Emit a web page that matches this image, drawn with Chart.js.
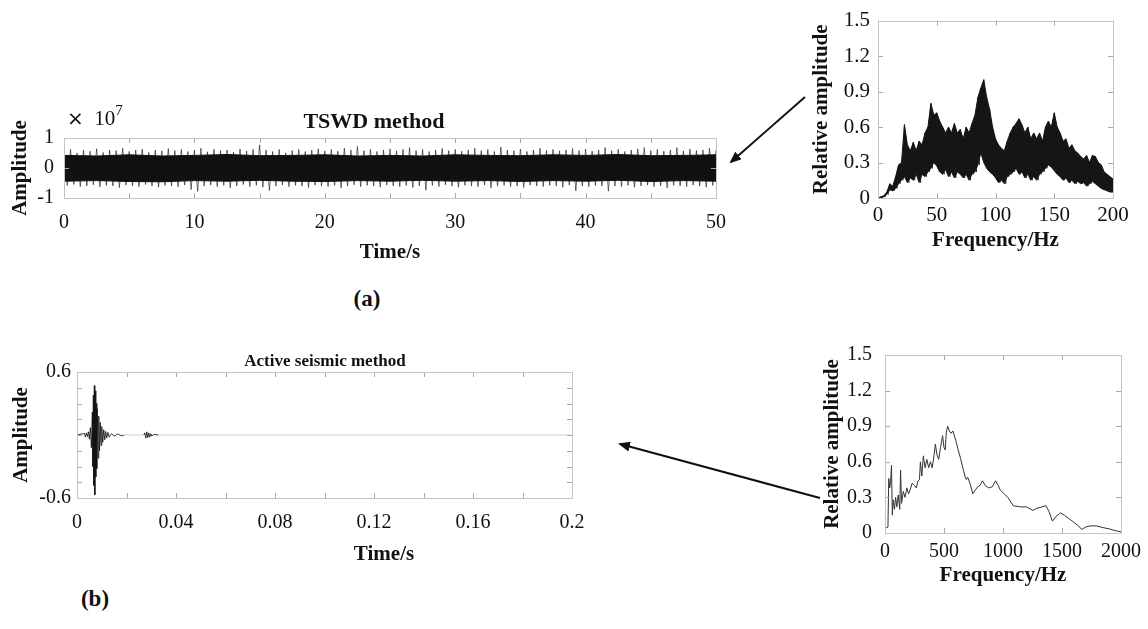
<!DOCTYPE html>
<html>
<head>
<meta charset="utf-8">
<script src="https://cdn.jsdelivr.net/npm/chart.js@4.4.1/dist/chart.umd.min.js"></script>
<style>
  html, body { margin: 0; padding: 0; background: #fff; }
  body { width: 1148px; height: 629px; position: relative; overflow: hidden; font-family: 'Liberation Serif', 'Times New Roman', serif; color: #111; }
  .box { position: absolute; }
  .lbl { position: absolute; transform: translate(-50%, -50%); white-space: nowrap; line-height: 1; }
  .b { font-weight: bold; }
  svg { position: absolute; left: 0; top: 0; }
</style>
</head>
<body>
<div class="box" style="left:0;top:100px;width:740px;height:170px"><canvas id="tswdWave" width="740" height="170"></canvas></div>
<div class="box" style="left:800px;top:0;width:340px;height:260px"><canvas id="tswdSpec" width="340" height="260"></canvas></div>
<div class="box" style="left:0;top:340px;width:640px;height:240px"><canvas id="seisWave" width="640" height="240"></canvas></div>
<div class="box" style="left:800px;top:330px;width:348px;height:280px"><canvas id="seisSpec" width="348" height="280"></canvas></div>

<div class="lbl" style="left:67px;top:117px;font-size:21px;transform:translate(0,-50%)"><span style="font-family:'DejaVu Sans';font-size:20px">×</span>&nbsp;&nbsp;10<sup style="font-size:15px;position:relative;top:-2px">7</sup></div>
<div class="lbl b" style="left:374px;top:121px;font-size:22px">TSWD method</div>
<div class="lbl b" style="left:367px;top:298px;font-size:23px">(a)</div>
<div class="lbl b" style="left:325px;top:360px;font-size:17px">Active seismic method</div>
<div class="lbl b" style="left:384px;top:553px;font-size:21px">Time/s</div>
<div class="lbl b" style="left:95px;top:598px;font-size:23px">(b)</div>

<svg width="1148" height="629">
  <defs>
    <marker id="head" markerWidth="6" markerHeight="5" refX="5" refY="2.5" orient="auto" markerUnits="strokeWidth">
      <path d="M0,0 L6,2.5 L0,5 Z" fill="#111"/>
    </marker>
  </defs>
  <line x1="805" y1="97" x2="731" y2="162" stroke="#111" stroke-width="2" marker-end="url(#head)"/>
  <line x1="820" y1="498" x2="620" y2="444" stroke="#111" stroke-width="2" marker-end="url(#head)"/>
</svg>

<script>
// (a) TSWD time history, x 1e7, peak envelope read every 0.5 s
const tswdStep = 0.5;
const tswdUpper = [
  0.55,0.62,0.5,0.6,0.56,0.64,0.52,0.6,0.58,0.66,
  0.55,0.6,0.63,0.52,0.6,0.57,0.65,0.58,0.62,0.55,
  0.6,0.66,0.54,0.62,0.58,0.6,0.53,0.63,0.57,0.62,
  0.77,0.6,0.55,0.62,0.5,0.58,0.62,0.55,0.6,0.64,
  0.57,0.62,0.56,0.66,0.6,0.72,0.58,0.62,0.55,0.6,
  0.64,0.57,0.62,0.68,0.58,0.62,0.55,0.6,0.65,0.58,
  0.62,0.56,0.6,0.66,0.58,0.62,0.55,0.7,0.6,0.58,
  0.63,0.55,0.6,0.66,0.58,0.62,0.57,0.6,0.65,0.58,
  0.63,0.56,0.6,0.68,0.58,0.62,0.55,0.6,0.64,0.68,
  0.58,0.62,0.56,0.6,0.68,0.57,0.63,0.58,0.6,0.66,
  0.6
];
const tswdLower = [
  -0.58,-0.55,-0.62,-0.6,-0.56,-0.63,-0.58,-0.6,-0.65,-0.57,
  -0.6,-0.62,-0.55,-0.6,-0.64,-0.58,-0.6,-0.63,-0.57,-0.72,
  -0.78,-0.6,-0.57,-0.62,-0.58,-0.66,-0.6,-0.55,-0.62,-0.58,
  -0.64,-0.75,-0.6,-0.57,-0.62,-0.58,-0.6,-0.65,-0.57,-0.6,
  -0.62,-0.58,-0.66,-0.6,-0.56,-0.62,-0.58,-0.6,-0.64,-0.57,
  -0.6,-0.62,-0.58,-0.65,-0.6,-0.74,-0.58,-0.62,-0.56,-0.6,
  -0.64,-0.58,-0.6,-0.62,-0.57,-0.66,-0.6,-0.58,-0.62,-0.6,
  -0.65,-0.57,-0.6,-0.62,-0.58,-0.6,-0.64,-0.57,-0.76,-0.6,
  -0.62,-0.58,-0.6,-0.77,-0.6,-0.62,-0.58,-0.64,-0.6,-0.57,
  -0.62,-0.6,-0.66,-0.58,-0.6,-0.62,-0.57,-0.6,-0.64,-0.58,
  -0.6
];
// dense core of the signal, every 2.5 s
const tswdCoreStep = 2.5;
const tswdCoreUpper = [0.42,0.4,0.44,0.4,0.42,0.45,0.41,0.42,0.44,0.4,0.42,0.4,0.44,0.42,0.41,0.44,0.42,0.45,0.41,0.42,0.44];
const tswdCoreLower = [-0.44,-0.42,-0.45,-0.46,-0.42,-0.44,-0.41,-0.44,-0.45,-0.42,-0.44,-0.41,-0.44,-0.42,-0.45,-0.42,-0.44,-0.41,-0.45,-0.42,-0.44];

// (a) spectrum, band read every 2.5 Hz
const specStep = 2.5;
const specUpper = [
  0,0.01,0.02,0.05,0.12,0.1,0.18,0.28,0.3,0.62,
  0.45,0.4,0.47,0.4,0.48,0.45,0.55,0.6,0.8,0.7,
  0.72,0.65,0.6,0.55,0.6,0.55,0.63,0.55,0.58,0.5,
  0.6,0.55,0.63,0.7,0.85,0.93,1.0,0.85,0.75,0.6,
  0.5,0.45,0.42,0.4,0.48,0.55,0.6,0.63,0.67,0.62,
  0.55,0.6,0.5,0.55,0.5,0.55,0.48,0.6,0.65,0.6,
  0.72,0.6,0.55,0.48,0.5,0.42,0.45,0.4,0.38,0.35,
  0.33,0.36,0.3,0.36,0.35,0.3,0.28,0.22,0.2,0.18,
  0.16
];
const specLower = [
  0,0,0.01,0.03,0.07,0.06,0.08,0.12,0.15,0.18,
  0.13,0.17,0.15,0.2,0.13,0.2,0.18,0.22,0.25,0.3,
  0.27,0.22,0.2,0.24,0.18,0.22,0.17,0.22,0.2,0.17,
  0.2,0.15,0.2,0.22,0.28,0.38,0.3,0.25,0.22,0.2,
  0.17,0.13,0.15,0.12,0.18,0.2,0.22,0.25,0.2,0.22,
  0.17,0.2,0.15,0.18,0.15,0.2,0.22,0.25,0.28,0.26,
  0.23,0.2,0.18,0.15,0.17,0.13,0.15,0.12,0.14,0.12,
  0.13,0.1,0.12,0.14,0.12,0.1,0.08,0.07,0.06,0.05,
  0.05
];

// (b) active seismic record
const seisTime = [0,0.003,0.0034,0.0038,0.0042,0.0046,0.005,0.0054,0.0058,0.0062,0.0064,0.0066,0.0068,0.007,0.0072,0.0074,0.0076,0.0078,0.008,0.0082,0.0085,0.0088,0.0091,0.0094,0.0097,0.01,0.0104,0.0108,0.0112,0.0116,0.012,0.0125,0.013,0.014,0.015,0.0165,0.018,0.019,0.027,0.0274,0.0278,0.0282,0.0286,0.029,0.0294,0.0298,0.0302,0.031,0.033,0.2];
const seisAmp = [0,0.015,-0.02,0.02,-0.015,0.03,-0.04,0.07,-0.12,0.22,-0.3,0.38,-0.48,0.47,-0.57,0.42,-0.4,0.3,-0.32,0.25,-0.22,0.18,-0.15,0.12,-0.1,0.08,-0.07,0.05,-0.045,0.035,-0.03,0.025,-0.02,0.015,-0.012,0.01,-0.008,0,0,0.02,-0.03,0.03,-0.025,0.02,-0.02,0.012,-0.01,0.005,0,0];

// (b) spectrum
const seisFreq = [0,25,32,40,48,55,62,70,80,90,100,112,125,132,140,155,170,185,200,215,230,250,265,280,292,300,312,325,340,355,370,385,400,415,427,440,455,470,488,500,510,520,531,545,560,575,600,620,640,662,680,689,700,720,744,765,785,805,826,850,880,910,937,960,978,1000,1040,1088,1150,1200,1253,1290,1330,1364,1390,1419,1450,1488,1520,1560,1600,1640,1666,1700,1740,1791,1850,1900,1950,2000];
const seisSpecAmp = [0.04,0.05,0.46,0.38,0.44,0.57,0.15,0.28,0.2,0.3,0.22,0.32,0.2,0.53,0.25,0.35,0.3,0.38,0.33,0.37,0.42,0.4,0.38,0.44,0.45,0.6,0.48,0.65,0.55,0.62,0.55,0.6,0.55,0.65,0.75,0.66,0.62,0.72,0.82,0.72,0.7,0.85,0.9,0.86,0.84,0.86,0.78,0.7,0.63,0.54,0.47,0.45,0.47,0.42,0.33,0.36,0.39,0.4,0.44,0.4,0.38,0.39,0.44,0.4,0.36,0.34,0.3,0.23,0.22,0.22,0.19,0.21,0.22,0.23,0.18,0.1,0.14,0.17,0.15,0.12,0.09,0.06,0.03,0.05,0.06,0.06,0.045,0.035,0.02,0.01];

Chart.defaults.font.family = "'Liberation Serif', 'Times New Roman', serif";
Chart.defaults.color = '#111';

// MATLAB style box with ticks pointing inwards
const innerTicks = {
  id: 'innerTicks',
  afterDatasetsDraw(chart) {
    const { ctx, chartArea: a, scales: { x, y } } = chart;
    const len = 5;
    ctx.save();
    ctx.strokeStyle = '#a8a8a8';
    ctx.lineWidth = 1;
    ctx.beginPath();
    x.ticks.forEach(t => {
      const px = Math.round(x.getPixelForValue(t.value)) + 0.5;
      ctx.moveTo(px, a.bottom); ctx.lineTo(px, a.bottom - len);
      ctx.moveTo(px, a.top); ctx.lineTo(px, a.top + len);
    });
    y.ticks.forEach(t => {
      const py = Math.round(y.getPixelForValue(t.value)) + 0.5;
      ctx.moveTo(a.left, py); ctx.lineTo(a.left + len, py);
      ctx.moveTo(a.right, py); ctx.lineTo(a.right - len, py);
    });
    ctx.stroke();
    ctx.strokeStyle = '#c4c4c4';
    ctx.strokeRect(Math.round(a.left) + 0.5, Math.round(a.top) + 0.5, Math.round(a.width), Math.round(a.height));
    ctx.restore();
  }
};

const fmt = v => String(+(+v).toFixed(2));

function makeChart(id, datasets, o) {
  const xTitle = o.xTitle
    ? { display: true, text: o.xTitle, font: { size: o.titleSize, weight: 'bold' }, padding: { top: 0, bottom: o.xTitlePad } }
    : { display: false };
  return new Chart(document.getElementById(id), {
    type: 'line',
    data: { datasets },
    options: {
      responsive: false,
      animation: false,
      events: [],
      layout: { padding: { top: o.padTop, right: o.padRight, left: 0, bottom: 0 } },
      elements: { point: { radius: 0 }, line: { tension: 0 } },
      plugins: { legend: { display: false }, tooltip: { enabled: false } },
      scales: {
        x: {
          type: 'linear', min: o.xMin, max: o.xMax,
          grid: { display: false, drawTicks: false },
          border: { display: false },
          ticks: { stepSize: o.xStep, autoSkip: false, maxRotation: 0, padding: o.xTickPad,
                   font: { size: o.tickSize }, callback: o.xLabel },
          title: xTitle,
          afterFit: s => { s.height = o.xHeight; }
        },
        y: {
          min: o.yMin, max: o.yMax,
          grid: { display: false, drawTicks: false },
          border: { display: false },
          ticks: { stepSize: o.yStep, autoSkip: false, padding: o.yTickPad,
                   font: { size: o.tickSize }, callback: o.yLabel },
          title: { display: true, text: o.yTitle, font: { size: o.titleSize, weight: 'bold' }, padding: { top: o.yTitlePad, bottom: 0 } },
          afterFit: s => { s.width = o.yWidth; }
        }
      }
    },
    plugins: [innerTicks]
  });
}

const pts = (arr, step) => arr.map((v, i) => ({ x: i * step, y: v }));
// trace that swings from the upper to the lower envelope within each step
const swing = (up, lo, step) => up.flatMap((v, i) => [{ x: i * step, y: v }, { x: i * step + step / 2, y: lo[i] }]);

// (a) time history
makeChart('tswdWave', [
  { data: pts(tswdCoreUpper, tswdCoreStep), borderColor: '#111', borderWidth: 1, backgroundColor: '#111', fill: '+1' },
  { data: pts(tswdCoreLower, tswdCoreStep), borderColor: '#111', borderWidth: 1, fill: false },
  { data: swing(tswdUpper, tswdLower, tswdStep), borderColor: 'rgba(30,30,30,0.8)', borderWidth: 0.8, fill: false }
], {
  xMin: 0, xMax: 50, xStep: 5, yMin: -1, yMax: 1, yStep: 1,
  xLabel: v => (v % 10 === 0 ? fmt(v) : ''), yLabel: v => fmt(v),
  xTitle: 'Time/s', yTitle: 'Amplitude',
  tickSize: 20, titleSize: 21,
  padTop: 38, padRight: 24, yWidth: 64, xHeight: 72,
  xTickPad: 13, yTickPad: 10, xTitlePad: 5, yTitlePad: 8
});

// (a) spectrum: solid band between the envelopes plus a swinging trace for the ragged edge
makeChart('tswdSpec', [
  { data: pts(specUpper, specStep), borderColor: '#151515', borderWidth: 1, backgroundColor: '#151515', fill: '+1' },
  { data: pts(specLower, specStep), borderColor: '#2a2a2a', borderWidth: 1, fill: false },
  { data: swing(specUpper, specLower, specStep), borderColor: 'rgba(20,20,20,0.9)', borderWidth: 0.8, fill: false }
], {
  xMin: 0, xMax: 200, xStep: 50, yMin: 0, yMax: 1.5, yStep: 0.3,
  xLabel: v => fmt(v), yLabel: v => (Math.abs(v) < 1e-9 ? '0' : (+v).toFixed(1)),
  xTitle: 'Frequency/Hz', yTitle: 'Relative amplitude',
  tickSize: 21, titleSize: 21,
  padTop: 15, padRight: 27, yWidth: 78, xHeight: 62,
  xTickPad: 5, yTickPad: 8, xTitlePad: 7, yTitlePad: 9
});

// (b) time history: flat parts drawn light, burst dark
makeChart('seisWave', [
  { data: seisTime.map((t, i) => ({ x: t, y: seisAmp[i] })), borderWidth: 1, borderColor: '#222',
    segment: { borderColor: c => (c.p0.parsed.y === 0 && c.p1.parsed.y === 0 ? '#cfcfcf' : 'rgba(20,20,20,0.85)') } }
], {
  xMin: 0, xMax: 0.2, xStep: 0.02, yMin: -0.6, yMax: 0.6, yStep: 0.15,
  xLabel: (v, i) => (i % 2 === 0 ? fmt(v) : ''),
  yLabel: v => (Math.abs(Math.abs(v) - 0.6) < 1e-9 ? fmt(v) : ''),
  xTitle: null, yTitle: 'Amplitude',
  tickSize: 20, titleSize: 21,
  padTop: 32, padRight: 68, yWidth: 77, xHeight: 82,
  xTickPad: 13, yTickPad: 6, xTitlePad: 0, yTitlePad: 9
});

// (b) spectrum
makeChart('seisSpec', [
  { data: seisFreq.map((f, i) => ({ x: f, y: seisSpecAmp[i] })), borderColor: '#333', borderWidth: 1, fill: false }
], {
  xMin: 0, xMax: 2000, xStep: 500, yMin: 0, yMax: 1.5, yStep: 0.3,
  xLabel: v => fmt(v), yLabel: v => (Math.abs(v) < 1e-9 ? '0' : (+v).toFixed(1)),
  xTitle: 'Frequency/Hz', yTitle: 'Relative amplitude',
  tickSize: 20, titleSize: 21,
  padTop: 24, padRight: 21, yWidth: 85, xHeight: 77,
  xTickPad: 7, yTickPad: 13, xTitlePad: 22, yTitlePad: 20
});
</script>
</body>
</html>
